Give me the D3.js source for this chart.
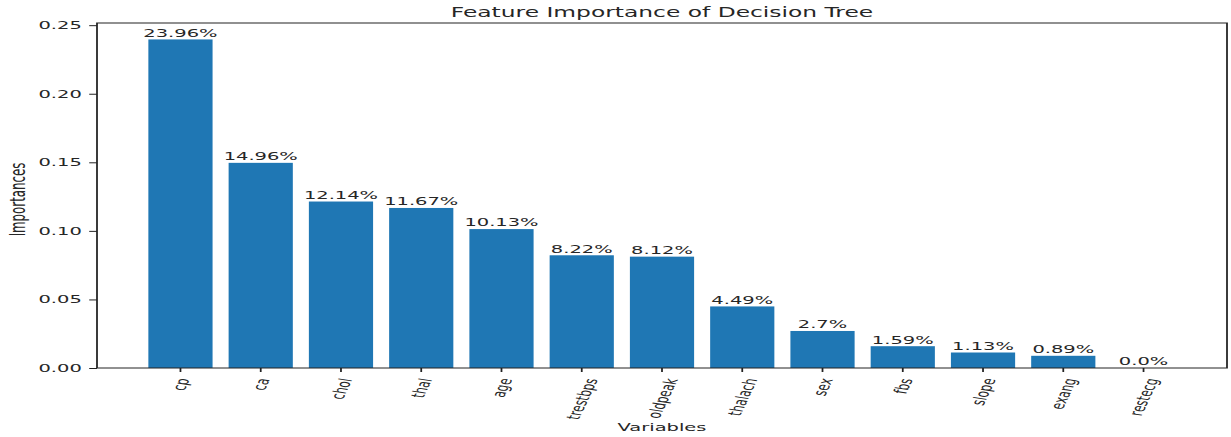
<!DOCTYPE html>
<html>
<head>
<meta charset="utf-8">
<script src="https://cdn.jsdelivr.net/npm/d3@7"></script>
<style>
  html, body { margin: 0; padding: 0; background: #fff; }
  svg { display: block; }
  text { font-family: "DejaVu Sans", sans-serif; fill: #262626; }
</style>
</head>
<body>
<svg id="chart"></svg>
<script>
var variables = ["cp", "ca", "chol", "thal", "age", "trestbps", "oldpeak", "thalach", "sex", "fbs", "slope", "exang", "restecg"];
var importances = [0.2396, 0.1496, 0.1214, 0.1167, 0.1013, 0.0822, 0.0812, 0.0449, 0.027, 0.0159, 0.0113, 0.0089, 0.0];
var yTicks = [0, 0.05, 0.10, 0.15, 0.20, 0.25];

// The picture is stretched sideways, so draw in a narrower box and let the svg stretch it.
var sx = 1.77;
var fullW = 1231, fullH = 437;
var vw = fullW / sx;
var margin = { top: 23, left: 97 / sx, right: (fullW - 1227) / sx, bottom: fullH - 368 };
var width = vw - margin.left - margin.right;
var height = fullH - margin.top - margin.bottom;

var svg = d3.select("#chart")
  .attr("width", fullW)
  .attr("height", fullH)
  .attr("viewBox", "0 0 " + vw + " " + fullH)
  .attr("preserveAspectRatio", "none");

var g = svg.append("g")
  .attr("transform", "translate(" + margin.left + "," + margin.top + ")");

var x = d3.scaleBand()
  .domain(variables)
  .range([0, width])
  .paddingInner(0.2)
  .paddingOuter(0.64);

var y = d3.scaleLinear()
  .domain([0, d3.max(importances) * 1.05])
  .range([height, 0]);

// bars
g.append("g").selectAll("rect")
  .data(importances)
  .enter().append("rect")
    .attr("x", function(d, i) { return x(variables[i]); })
    .attr("y", function(d) { return y(d); })
    .attr("width", x.bandwidth())
    .attr("height", function(d) { return height - y(d); })
    .attr("fill", "#1f77b4");

function pct(v) {
  var p = Math.round(v * 10000) / 100;
  return (Number.isInteger(p) ? p.toFixed(1) : String(p)) + "%";
}

// value labels on top of bars
g.append("g").selectAll("text")
  .data(importances)
  .enter().append("text")
    .attr("x", function(d, i) { return x(variables[i]) + x.bandwidth() / 2; })
    .attr("y", function(d) { return y(d) - 2.6; })
    .attr("text-anchor", "middle")
    .style("font-size", "11px")
    .text(pct);

// y axis
var yAxis = g.append("g")
  .call(d3.axisLeft(y).tickValues(yTicks).tickFormat(d3.format(".2f")).tickSize(4.4).tickPadding(4.2));
yAxis.selectAll("text").style("font-size", "11px").attr("fill", "#262626");

// x axis, labels done by hand below
var xAxis = g.append("g")
  .attr("transform", "translate(0," + height + ")")
  .call(d3.axisBottom(x).tickSize(4).tickFormat(""));

[yAxis, xAxis].forEach(function(a) {
  a.select(".domain").remove();
  a.selectAll("line").attr("stroke", "#222").attr("stroke-width", 1);
});

// frame
g.append("rect")
  .attr("width", width)
  .attr("height", height)
  .attr("fill", "none")
  .attr("stroke", "#222")
  .attr("stroke-width", 1);

// rotated tick labels, box top just under the ticks
var angle = 75 * Math.PI / 180;
var tickFont = 10.3;
var labelTop = 377 - margin.top;
var tickLabels = g.append("g").selectAll("text")
  .data(variables)
  .enter().append("text")
    .attr("text-anchor", "middle")
    .attr("dominant-baseline", "central")
    .style("font-size", tickFont + "px")
    .text(function(d) { return d; });

tickLabels.each(function(d) {
  var len = this.getComputedTextLength();
  var half = (len * Math.sin(angle) + tickFont * 1.1 * Math.cos(angle)) / 2;
  var cx = x(d) + x.bandwidth() / 2;
  var cy = labelTop + half;
  d3.select(this).attr("transform", "translate(" + cx + "," + cy + ") rotate(-75)");
});

// titles
g.append("text")
  .attr("x", width / 2)
  .attr("y", 16.5 - margin.top)
  .attr("text-anchor", "middle")
  .style("font-size", "13.2px")
  .text("Feature Importance of Decision Tree");

g.append("text")
  .attr("x", width / 2)
  .attr("y", 431.5 - margin.top)
  .attr("text-anchor", "middle")
  .style("font-size", "11px")
  .text("Variables");

svg.append("text")
  .attr("transform", "translate(" + (17.5 / sx) + "," + (margin.top + height / 2 + 4) + ") rotate(-90)")
  .attr("text-anchor", "middle")
  .attr("dominant-baseline", "central")
  .style("font-size", "11.8px")
  .text("Importances");
</script>
</body>
</html>
